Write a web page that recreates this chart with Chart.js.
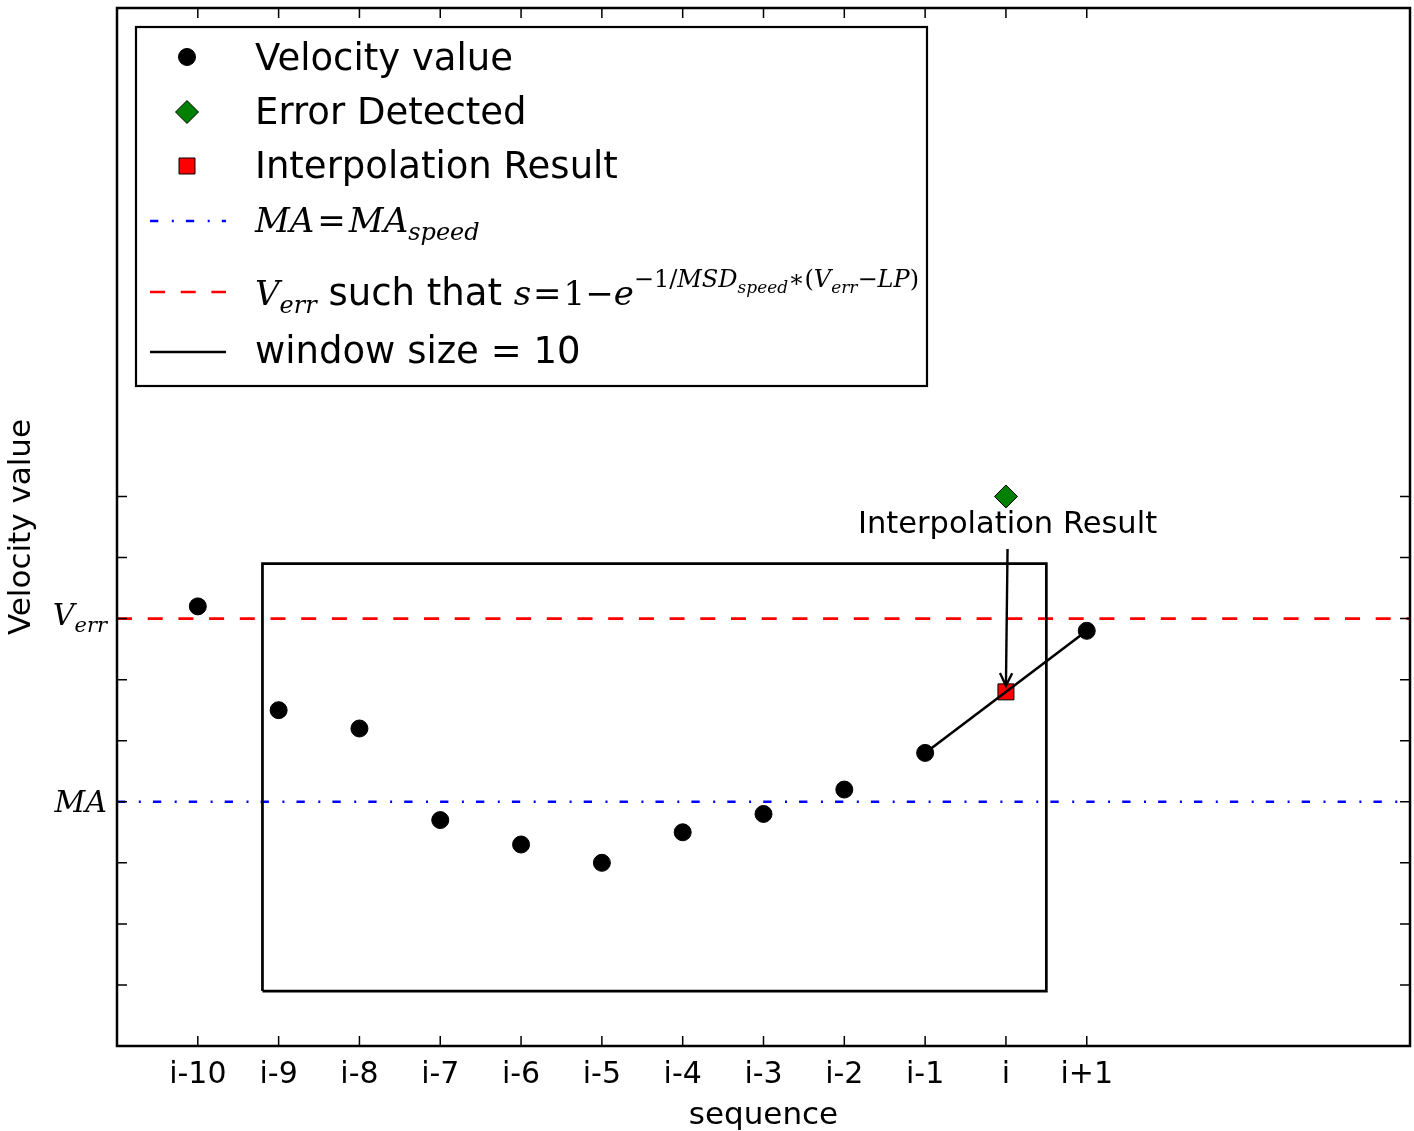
<!DOCTYPE html>
<html><head><meta charset="utf-8">
<script src="https://cdn.jsdelivr.net/npm/chart.js@4"></script>
<style>html,body{margin:0;padding:0;background:#fff;overflow:hidden;}#wrap{width:1414px;height:1131px;position:relative;}</style>
</head><body><div id="wrap"><canvas id="c"></canvas></div>
<script>
// ---------- data ----------
const xLabels = ['i-10','i-9','i-8','i-7','i-6','i-5','i-4','i-3','i-2','i-1','i','i+1'];
const velocity = [7.2, 5.5, 5.2, 3.7, 3.3, 3.0, 3.5, 3.8, 4.2, 4.8, null, 6.8];
const errorDetected = [null, null, null, null, null, null, null, null, null, null, 9.0, null];
const interpolation = [null, null, null, null, null, null, null, null, null, null, 5.8, null];
const maValue = 4.0;
const verrValue = 7.0;
const xRange = [-1, 15];
const yRange = [0, 17];
const yTickValues = [0, 1, 2, 3, 4, 5, 6, 7, 8, 9];
const windowX = [0.8, 10.5];
const windowY = [0.9, 7.9];
const segmentIdx = [9, 11];   // line joining neighbours of the interpolated point

// ---------- helpers ----------
const SANS = '"DejaVu Sans"';
const SERIF = '"DejaVu Serif"';
const pts = arr => arr.map((v, i) => (v === null ? null : {x: i, y: v})).filter(p => p);
const hline = v => [{x: xRange[0], y: v}, {x: xRange[1], y: v}];
const rectPts = [
  {x: windowX[0], y: windowY[0]}, {x: windowX[0], y: windowY[1]},
  {x: windowX[1], y: windowY[1]}, {x: windowX[1], y: windowY[0]},
  {x: windowX[0], y: windowY[0]}
];
const segPts = segmentIdx.map(i => ({x: i, y: velocity[i]}));

const DASH_RED = [15, 15.7];
const DASH_BLUE = [8.3, 13.5, 2, 12.1];

function drawRich(ctx, x, y, segs) {
  for (const s of segs) {
    ctx.font = s.f;
    x += (s.pre || 0);
    ctx.fillText(s.t, x, y + (s.dy || 0));
    x += ctx.measureText(s.t).width + (s.post || 0);
  }
  return x;
}
function richWidth(ctx, segs) {
  let w = 0;
  for (const s of segs) { ctx.font = s.f; w += (s.pre || 0) + ctx.measureText(s.t).width + (s.post || 0); }
  return w;
}

const LT = `37px ${SANS}`;
const LM = 34, LS = 24, LSS = 17;   // legend math sizes
const it = sz => `italic ${sz}px ${SERIF}`;
const rm = sz => `${sz}px ${SERIF}`;
const SUP = -18;

const legendRows = [
  {kind: 'circle', segs: [{t: 'Velocity value', f: LT}]},
  {kind: 'diamond', segs: [{t: 'Error Detected', f: LT}]},
  {kind: 'square', segs: [{t: 'Interpolation Result', f: LT}]},
  {kind: 'blue', segs: [
    {t: 'MA', f: it(LM)}, {t: '=', f: rm(LM), pre: 3, post: 3}, {t: 'MA', f: it(LM)},
    {t: 'speed', f: it(LS), dy: 8}]},
  {kind: 'red', segs: [
    {t: 'V', f: it(LM)}, {t: 'err', f: it(LS), dy: 8},
    {t: ' such that ', f: LT},
    {t: 's', f: it(LM)}, {t: '=', f: rm(LM), pre: 2, post: 2}, {t: '1', f: rm(LM)},
    {t: '\u2212', f: rm(LM)}, {t: 'e', f: it(LM)},
    {t: '\u22121/', f: rm(LS), dy: SUP}, {t: 'MSD', f: it(LS), dy: SUP},
    {t: 'speed', f: it(LSS), dy: SUP + 6}, {t: '\u2217(', f: rm(LS), dy: SUP},
    {t: 'V', f: it(LS), dy: SUP}, {t: 'err', f: it(LSS), dy: SUP + 6},
    {t: '\u2212', f: rm(LS), dy: SUP}, {t: 'LP', f: it(LS), dy: SUP}, {t: ')', f: rm(LS), dy: SUP}]},
  {kind: 'black', segs: [{t: 'window size = 10', f: LT}]}
];
const legendBaselines = [70, 124, 178, 232, 305, 363];
const legendMarkY = [57, 112, 166, 221, 292, 352];

const yTickText = [
  {v: maValue, segs: [{t: 'MA', f: it(30)}], dy: 10},
  {v: verrValue, segs: [{t: 'V', f: it(30)}, {t: 'err', f: it(21), dy: 7}], dy: 6}
];

const annotation = {text: 'Interpolation Result', tx: 10.02, ty: 8.40, ax0: 10.02, ay0: 8.14, ax1: 10.0, ay1: 5.9};

const zeroPad = s => { s.paddingLeft = 0; s.paddingRight = 0; s.paddingTop = 0; s.paddingBottom = 0; };

const decor = {
  id: 'decor',
  afterDraw(chart) {
    const {ctx, chartArea: a, scales: {x, y}} = chart;
    ctx.save();
    ctx.strokeStyle = '#000'; ctx.fillStyle = '#000';
    // inward ticks
    ctx.lineWidth = 1.5;
    ctx.beginPath();
    xLabels.forEach((_, i) => {
      const px = x.getPixelForValue(i);
      ctx.moveTo(px, a.bottom); ctx.lineTo(px, a.bottom - 10);
      ctx.moveTo(px, a.top); ctx.lineTo(px, a.top + 10);
    });
    yTickValues.forEach(v => {
      const py = y.getPixelForValue(v);
      ctx.moveTo(a.left, py); ctx.lineTo(a.left + 10, py);
      ctx.moveTo(a.right, py); ctx.lineTo(a.right - 10, py);
    });
    ctx.stroke();
    // frame
    ctx.lineWidth = 2.5;
    ctx.strokeRect(a.left, a.top, a.right - a.left, a.bottom - a.top);
    // y tick labels (math)
    ctx.textBaseline = 'alphabetic'; ctx.textAlign = 'left';
    yTickText.forEach(t => {
      const w = richWidth(ctx, t.segs);
      drawRich(ctx, a.left - 10 - w, y.getPixelForValue(t.v) + t.dy, t.segs);
    });
    // annotation
    ctx.font = `30.5px ${SANS}`; ctx.textAlign = 'center';
    ctx.fillText(annotation.text, x.getPixelForValue(annotation.tx), y.getPixelForValue(annotation.ty));
    const x0 = x.getPixelForValue(annotation.ax0), y0 = y.getPixelForValue(annotation.ay0);
    const x1 = x.getPixelForValue(annotation.ax1), y1 = y.getPixelForValue(annotation.ay1);
    ctx.lineWidth = 2.4;
    ctx.beginPath(); ctx.moveTo(x0, y0); ctx.lineTo(x1, y1); ctx.stroke();
    const ang = Math.atan2(y1 - y0, x1 - x0);
    ctx.beginPath();
    ctx.moveTo(x1 - 14 * Math.cos(ang - 0.45), y1 - 14 * Math.sin(ang - 0.45));
    ctx.lineTo(x1, y1);
    ctx.lineTo(x1 - 14 * Math.cos(ang + 0.45), y1 - 14 * Math.sin(ang + 0.45));
    ctx.stroke();
    // legend
    ctx.textAlign = 'left';
    ctx.fillStyle = '#fff';
    ctx.fillRect(136, 27, 791, 359);
    ctx.lineWidth = 2.2; ctx.strokeStyle = '#000';
    ctx.strokeRect(136, 27, 791, 359);
    legendRows.forEach((r, i) => {
      const my = legendMarkY[i];
      ctx.save();
      if (r.kind === 'circle') {
        ctx.fillStyle = '#000'; ctx.strokeStyle = '#000'; ctx.lineWidth = 1;
        Chart.helpers.drawPoint(ctx, {pointStyle: 'circle', radius: 8.5, borderWidth: 1}, 187, my);
      } else if (r.kind === 'diamond') {
        ctx.fillStyle = '#008000'; ctx.strokeStyle = '#000'; ctx.lineWidth = 1;
        Chart.helpers.drawPoint(ctx, {pointStyle: 'rectRot', radius: 11.5, borderWidth: 1}, 187, my);
      } else if (r.kind === 'square') {
        ctx.fillStyle = '#ff0000'; ctx.strokeStyle = '#000'; ctx.lineWidth = 1;
        Chart.helpers.drawPoint(ctx, {pointStyle: 'rect', radius: 11.3, borderWidth: 1}, 187, my);
      } else {
        ctx.lineWidth = 2.6;
        ctx.strokeStyle = r.kind === 'blue' ? '#0000ff' : r.kind === 'red' ? '#ff0000' : '#000';
        ctx.setLineDash(r.kind === 'blue' ? DASH_BLUE : r.kind === 'red' ? DASH_RED : []);
        ctx.beginPath(); ctx.moveTo(150, my); ctx.lineTo(226, my); ctx.stroke();
      }
      ctx.restore();
      ctx.fillStyle = '#000';
      drawRich(ctx, 255, legendBaselines[i], r.segs);
    });
    ctx.restore();
  }
};

Chart.defaults.color = '#000';
Chart.defaults.font.family = SANS;

new Chart(document.getElementById('c'), {
  type: 'scatter',
  data: {
    datasets: [
      {label: 'Error Detected', data: pts(errorDetected), pointStyle: 'rectRot', pointRadius: 11.5,
       backgroundColor: '#008000', borderColor: '#000', borderWidth: 1, order: 0},
      {label: 'segment', data: segPts, showLine: true, pointRadius: 0, borderColor: '#000',
       borderWidth: 2.6, order: 1},
      {label: 'Interpolation Result', data: pts(interpolation), pointStyle: 'rect', pointRadius: 11.3,
       backgroundColor: '#ff0000', borderColor: '#000', borderWidth: 1, order: 2},
      {label: 'Velocity value', data: pts(velocity), pointStyle: 'circle', pointRadius: 8.5,
       backgroundColor: '#000', borderColor: '#000', borderWidth: 1, order: 3},
      {label: 'window size = 10', data: rectPts, showLine: true, pointRadius: 0, borderColor: '#000',
       borderWidth: 2.7, borderJoinStyle: 'miter', order: 4},
      {label: 'Verr', data: hline(verrValue), showLine: true, pointRadius: 0, borderColor: '#ff0000',
       borderWidth: 2.7, borderDash: DASH_RED, order: 5},
      {label: 'MA', data: hline(maValue), showLine: true, pointRadius: 0, borderColor: '#0000ff',
       borderWidth: 2.7, borderDash: DASH_BLUE, order: 6}
    ]
  },
  options: {
    responsive: true, maintainAspectRatio: false, animation: false,
    layout: {autoPadding: false, padding: {top: 8, right: 4, left: 0, bottom: 0}},
    plugins: {legend: {display: false}, tooltip: {enabled: false}},
    elements: {point: {hoverRadius: 0}},
    scales: {
      x: {
        type: 'linear', min: xRange[0], max: xRange[1],
        afterBuildTicks: s => { s.ticks = xLabels.map((_, i) => ({value: i})); },
        afterFit: s => { s.height = 85; zeroPad(s); },
        ticks: {callback: v => xLabels[v] ?? '', font: {size: 30, family: SANS}, color: '#000', padding: 11, maxRotation: 0, autoSkip: false},
        grid: {display: false, drawTicks: false},
        border: {display: false},
        title: {display: true, text: 'sequence', font: {size: 31, family: SANS, lineHeight: 1.0}, color: '#000', padding: {top: 0, bottom: 0}}
      },
      y: {
        type: 'linear', min: yRange[0], max: yRange[1],
        afterBuildTicks: s => { s.ticks = yTickValues.map(v => ({value: v})); },
        afterFit: s => { s.width = 117; zeroPad(s); },
        ticks: {callback: () => '', padding: 0},
        grid: {display: false, drawTicks: false},
        border: {display: false},
        title: {display: true, text: 'Velocity value', font: {size: 31, family: SANS}, color: '#000', padding: {top: 3, bottom: 0}}
      }
    }
  },
  plugins: [decor]
});
</script>
</body></html>
